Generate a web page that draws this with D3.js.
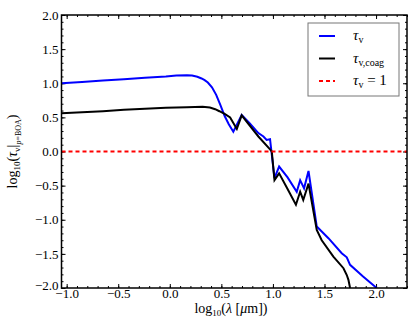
<!DOCTYPE html>
<html>
<head>
<meta charset="utf-8">
<script src="https://cdn.jsdelivr.net/npm/d3@7"></script>
<style>
  body { margin: 0; background: #fff; }
  svg text { font-family: "Liberation Serif", "DejaVu Serif", serif; }
</style>
</head>
<body>
<div id="chart"></div>
<script>
// log10 wavelength (um) and log10 optical depth
const lamBlue = [-1.05, -0.851, -0.648, -0.445, -0.241, -0.038, 0.064, 0.166, 0.216, 0.267, 0.308, 0.338,
                 0.369, 0.409, 0.450, 0.491, 0.532, 0.572, 0.616, 0.697, 0.776, 0.859, 0.908, 0.939, 0.972,
                 1.015, 1.060, 1.142, 1.231, 1.264, 1.302, 1.345, 1.425, 1.538, 1.667, 1.716, 1.748, 1.874, 2.006];
const tauBlue = [1.0, 1.02, 1.04, 1.06, 1.08, 1.10, 1.115, 1.118, 1.112, 1.095, 1.07, 1.045,
                 1.01, 0.94, 0.83, 0.68, 0.52, 0.40, 0.29, 0.535, 0.41, 0.27, 0.22, 0.17, 0.18,
                 -0.39, -0.22, -0.38, -0.59, -0.42, -0.54, -0.286, -1.10, -1.27, -1.49, -1.55, -1.66, -1.83, -2.0];

const lamBlack = [-1.05, -0.851, -0.648, -0.445, -0.241, -0.038, 0.166, 0.318, 0.389, 0.440, 0.481, 0.532,
                  0.585, 0.650, 0.697, 0.859, 0.972, 0.989, 1.015, 1.060, 1.142, 1.223, 1.264, 1.294,
                  1.345, 1.425, 1.473, 1.586, 1.684, 1.716, 1.732, 1.748, 1.772];
const tauBlack = [0.56, 0.575, 0.59, 0.61, 0.625, 0.64, 0.65, 0.655, 0.645, 0.62, 0.59, 0.55,
                  0.50, 0.33, 0.53, 0.22, 0.03, 0.0, -0.42, -0.32, -0.55, -0.78, -0.59, -0.71,
                  -0.47, -1.15, -1.30, -1.54, -1.71, -1.81, -1.88, -2.0, -2.1];

const xTicks = [-1.0, -0.5, 0.0, 0.5, 1.0, 1.5, 2.0];
const yTicks = [-2.0, -1.5, -1.0, -0.5, 0.0, 0.5, 1.0, 1.5, 2.0];

const width = 415, height = 332;
const margin = {top: 15, right: 8, bottom: 44, left: 61.5};

const svg = d3.select('#chart').append('svg')
  .attr('width', width)
  .attr('height', height);

const x = d3.scaleLinear().domain([-1.05, 2.3]).range([margin.left, width - margin.right]);
const y = d3.scaleLinear().domain([-2.0, 2.0]).range([height - margin.bottom, margin.top]);

const fmt = v => (v === 0 ? '0.0' : d3.format('.1f')(v).replace('-', '\u2212'));
const minorX = d3.range(-1.0, 2.31, 0.1);
const minorY = d3.range(-2.0, 2.01, 0.1);

// ticks inward on all four sides
function addAxis(axis, tr) {
  const g = svg.append('g').attr('transform', tr).call(axis);
  g.select('.domain').remove();
  g.selectAll('line').attr('stroke', '#000').attr('stroke-width', 1);
  return g;
}
const bx = height - margin.bottom, ty = margin.top;
const lx = margin.left, rx = width - margin.right;

addAxis(d3.axisBottom(x).tickValues(minorX).tickSize(-2).tickFormat(''), `translate(0,${bx})`);
addAxis(d3.axisTop(x).tickValues(minorX).tickSize(-2).tickFormat(''), `translate(0,${ty})`);
addAxis(d3.axisLeft(y).tickValues(minorY).tickSize(-2).tickFormat(''), `translate(${lx},0)`);
addAxis(d3.axisRight(y).tickValues(minorY).tickSize(-2).tickFormat(''), `translate(${rx},0)`);

const xb = addAxis(d3.axisBottom(x).tickValues(xTicks).tickSize(-4).tickPadding(1).tickFormat(fmt), `translate(0,${bx})`);
addAxis(d3.axisTop(x).tickValues(xTicks).tickSize(-4).tickFormat(''), `translate(0,${ty})`);
const yl = addAxis(d3.axisLeft(y).tickValues(yTicks).tickSize(-4).tickPadding(3).tickFormat(fmt), `translate(${lx},0)`);
addAxis(d3.axisRight(y).tickValues(yTicks).tickSize(-4).tickFormat(''), `translate(${rx},0)`);

xb.selectAll('text').attr('font-size', 13).attr('fill', '#000')
  .attr('font-family', '"Liberation Serif", serif');
yl.selectAll('text').attr('font-size', 13).attr('fill', '#000')
  .attr('font-family', '"Liberation Serif", serif');
// lift the bottom y label a touch so it clears the first x label
yl.selectAll('.tick').filter(d => d === -2.0).select('text').attr('dy', '0.1em');

svg.append('defs').append('clipPath').attr('id', 'clip')
  .append('rect')
  .attr('x', lx).attr('y', ty)
  .attr('width', rx - lx).attr('height', bx - ty);

const plot = svg.append('g').attr('clip-path', 'url(#clip)');

const line = d3.line().x(d => x(d[0])).y(d => y(d[1]));

plot.append('path')
  .datum(d3.zip(lamBlue, tauBlue))
  .attr('d', line)
  .attr('fill', 'none')
  .attr('stroke', '#0000ff')
  .attr('stroke-width', 2);

plot.append('path')
  .datum(d3.zip(lamBlack, tauBlack))
  .attr('d', line)
  .attr('fill', 'none')
  .attr('stroke', '#000')
  .attr('stroke-width', 2);

plot.append('line')
  .attr('x1', x(-1.05)).attr('x2', x(2.3))
  .attr('y1', y(0)).attr('y2', y(0))
  .attr('stroke', '#ff0000')
  .attr('stroke-width', 2)
  .attr('stroke-dasharray', '4,3');

// frame
svg.append('rect')
  .attr('x', lx).attr('y', ty)
  .attr('width', rx - lx).attr('height', bx - ty)
  .attr('fill', 'none')
  .attr('stroke', '#000')
  .attr('stroke-width', 1.5);

// legend
const leg = svg.append('g').attr('transform', 'translate(308,23)');
leg.append('rect')
  .attr('width', 91).attr('height', 73)
  .attr('fill', '#fff')
  .attr('stroke', '#777')
  .attr('stroke-width', 1);

const legItems = [
  {color: '#0000ff', dash: null, sub: 'v', tail: ''},
  {color: '#000', dash: null, sub: 'v,coag', tail: ''},
  {color: '#ff0000', dash: '4,3', sub: 'v', tail: ' = 1'}
];
legItems.forEach((it, i) => {
  const yy = 13 + i * 22.5;
  leg.append('line')
    .attr('x1', 11).attr('x2', 27)
    .attr('y1', yy).attr('y2', yy)
    .attr('stroke', it.color)
    .attr('stroke-width', 2)
    .attr('stroke-dasharray', it.dash);
  const t = leg.append('text')
    .attr('x', 45).attr('y', yy + 4)
    .attr('font-size', 15);
  t.append('tspan').attr('font-style', 'italic').text('τ');
  t.append('tspan').attr('font-size', 10).attr('dy', 3).text(it.sub);
  if (it.tail) t.append('tspan').attr('dy', -3).text(it.tail);
});

// axis titles
const xt = svg.append('text')
  .attr('x', 231)
  .attr('y', 313)
  .attr('text-anchor', 'middle')
  .attr('font-size', 14);
xt.append('tspan').text('log');
xt.append('tspan').attr('font-size', 9).attr('dy', 3).text('10');
xt.append('tspan').attr('dy', -3).text('(');
xt.append('tspan').attr('font-style', 'italic').text('λ');
xt.append('tspan').text(' [');
xt.append('tspan').attr('font-style', 'italic').text('μ');
xt.append('tspan').text('m])');

const yt = svg.append('text')
  .attr('transform', `translate(17,${(ty + bx) / 2}) rotate(-90)`)
  .attr('text-anchor', 'middle')
  .attr('font-size', 14);
yt.append('tspan').text('log');
yt.append('tspan').attr('font-size', 9).attr('dy', 3).text('10');
yt.append('tspan').attr('dy', -3).text('(');
yt.append('tspan').attr('font-style', 'italic').text('τ');
yt.append('tspan').attr('font-size', 9).attr('dy', 3).text('v');
yt.append('tspan').attr('dy', -3).text('|');
yt.append('tspan').attr('font-size', 8).attr('dy', 4).attr('font-style', 'italic').text('p');
yt.append('tspan').attr('font-size', 8).text('=BOA');
yt.append('tspan').attr('dy', -4).text(')');
</script>
</body>
</html>
